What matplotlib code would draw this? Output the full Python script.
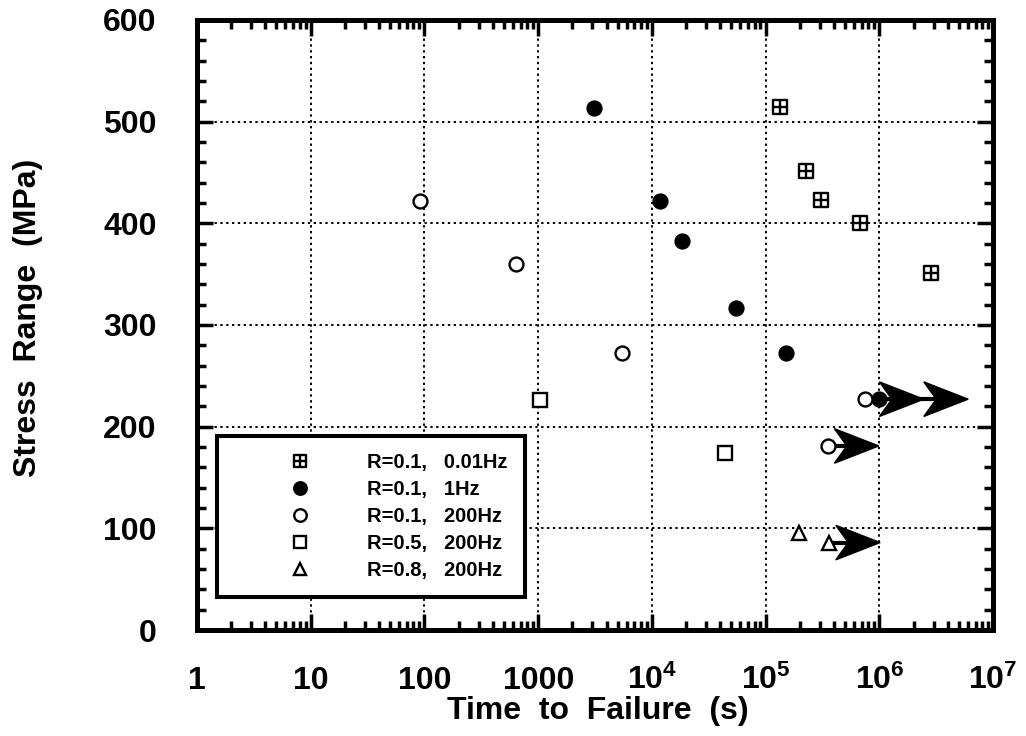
import matplotlib
matplotlib.use("Agg")
import matplotlib.pyplot as plt
import numpy as np
from matplotlib.path import Path
from matplotlib.patches import Polygon
from matplotlib.ticker import LogLocator, MultipleLocator, NullFormatter

plt.rcParams['font.family'] = ['Liberation Sans', 'DejaVu Sans']
plt.rcParams['font.weight'] = 'bold'
plt.rcParams['mathtext.fontset'] = 'custom'
plt.rcParams['mathtext.rm'] = 'Liberation Sans:bold'
plt.rcParams['mathtext.bf'] = 'Liberation Sans:bold'
plt.rcParams['mathtext.it'] = 'Liberation Sans:bold'

# ---- data ----
labels = ["R=0.1,   0.01Hz", "R=0.1,   1Hz", "R=0.1,   200Hz", "R=0.5,   200Hz", "R=0.8,   200Hz"]
t_001hz = [1.34e5, 2.27e5, 3.08e5, 6.8e5, 2.86e6]
s_001hz = [514, 451, 423, 400, 351]
t_1hz = [3.1e3, 1.18e4, 1.85e4, 5.5e4, 1.52e5, 1.0e6]
s_1hz = [513, 422, 383, 317, 272, 227]
t_200hz = [92, 640, 5.4e3, 7.5e5, 3.5e5]
s_200hz = [422, 360, 272, 227, 181]
t_r05 = [1040, 4.4e4]
s_r05 = [226, 174]
t_r08 = [1.97e5, 3.6e5]
s_r08 = [95, 86]
# run-outs (start time, stress, number of arrow heads)
runout_t = [1.0e6, 3.5e5, 3.6e5]
runout_s = [227, 181, 86]
runout_heads = [2, 1, 1]

xtick_vals = [1, 10, 100, 1000, 1e4, 1e5, 1e6, 1e7]
xtick_labels = ["1", "10", "100", "1000", r"$10^{4}$", r"$10^{5}$", r"$10^{6}$", r"$10^{7}$"]
ytick_vals = [0, 100, 200, 300, 400, 500, 600]

# hatched square marker
hs_verts = [(-1, -1), (1, -1), (1, 1), (-1, 1), (-1, -1),
            (-1, 0), (1, 0), (0, -1), (0, 1)]
hs_codes = [Path.MOVETO, Path.LINETO, Path.LINETO, Path.LINETO, Path.CLOSEPOLY,
            Path.MOVETO, Path.LINETO, Path.MOVETO, Path.LINETO]
hatched_sq = Path(hs_verts, hs_codes)

fig = plt.figure(figsize=(10.26, 7.36), dpi=100)
ax = fig.add_axes([0.192, 0.144, 0.776, 0.829])
ax.set_xscale('log')
ax.set_xlim(1, 1e7)
ax.set_ylim(0, 600)

ms = 10
mew = 1.7
ax.plot(t_001hz, s_001hz, ls='none', marker=hatched_sq, ms=ms, mfc='white', mec='black', mew=mew, label=labels[0], zorder=5)
ax.plot(t_1hz, s_1hz, ls='none', marker='o', ms=ms, mfc='black', mec='black', mew=mew, label=labels[1], zorder=5)
ax.plot(t_200hz, s_200hz, ls='none', marker='o', ms=ms, mfc='white', mec='black', mew=mew, label=labels[2], zorder=5)
ax.plot(t_r05, s_r05, ls='none', marker='s', ms=ms, mfc='white', mec='black', mew=mew, label=labels[3], zorder=5)
ax.plot(t_r08, s_r08, ls='none', marker='^', ms=ms, mfc='white', mec='black', mew=mew, label=labels[4], zorder=5)

# run-out arrows (concave arrow heads)
L = 0.39   # head length in decades
H = 17     # half height in MPa
for t0, s0, nh in zip(runout_t, runout_s, runout_heads):
    lx0 = np.log10(t0)
    shaft = 0.0 if nh > 1 else 0.06
    tips = [lx0 + shaft + L * (k + 1) for k in range(nh)]
    ax.plot([t0, 10 ** (tips[-1] - 0.5 * L)], [s0, s0], color='black', lw=3, zorder=4, solid_capstyle='butt')
    for tip in tips:
        verts = [(10 ** tip, s0), (10 ** (tip - L), s0 + H), (10 ** (tip - 0.72 * L), s0),
                 (10 ** (tip - L), s0 - H)]
        ax.add_patch(Polygon(verts, closed=True, fc='black', ec='black', lw=1, zorder=6))

ax.set_xticks(xtick_vals)
ax.set_xticklabels(xtick_labels)
ax.xaxis.set_minor_locator(LogLocator(base=10, subs=np.arange(2, 10), numticks=20))
ax.xaxis.set_minor_formatter(NullFormatter())
ax.set_yticks(ytick_vals)
ax.yaxis.set_minor_locator(MultipleLocator(20))

ax.grid(True, which='major', color='black', ls=(0, (1.2, 1.8)), lw=1.4)
ax.tick_params(which='both', direction='in', top=True, right=True, width=2.5, labelsize=23)
ax.tick_params(which='major', length=11.5)
ax.tick_params(which='minor', length=6.5)
ax.tick_params(axis='x', which='major', pad=42.5)
ax.tick_params(axis='y', which='major', pad=29)
for sp in ax.spines.values():
    sp.set_linewidth(3.6)
for lab in ax.get_xticklabels():
    lab.set_fontweight('bold')
    lab.set_va('baseline')
for lab in ax.get_yticklabels():
    lab.set_fontweight('bold')

ax.set_xlabel("Time  to  Failure  (s)", fontsize=23, fontweight='bold', va='center')
ax.xaxis.set_label_coords(0.504, -0.133)
ax.set_ylabel("Stress  Range  (MPa)", fontsize=23, fontweight='bold', va='center')
ax.yaxis.set_label_coords(-0.2123, 0.511)

leg = ax.legend(loc='lower left', bbox_to_anchor=(0.025, 0.054), frameon=True, fancybox=False,
                edgecolor='black', framealpha=1, prop={'weight': 'bold', 'size': 14.5},
                handletextpad=0.0, borderpad=0.85, labelspacing=0.4, handlelength=6.6,
                markerscale=0.9, borderaxespad=0)
leg.get_frame().set_linewidth(2.9)
leg.set_zorder(10)

fig.savefig("out.png", dpi=100)
